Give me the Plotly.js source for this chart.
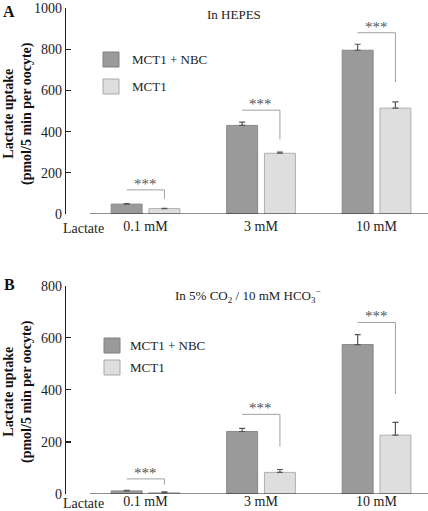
<!DOCTYPE html>
<html>
<head>
<meta charset="utf-8">
<script src="https://cdn.plot.ly/plotly-3.0.1.min.js"></script>
<style>html,body{margin:0;padding:0;background:#fff;}#chart{width:428px;height:511px;}</style>
</head>
<body>
<div id="chart"></div>
<script>
// ---- data ----
const categories = ["0.1 mM", "3 mM", "10 mM"];
const seriesNames = ["MCT1 + NBC", "MCT1"];
// Panel A: In HEPES
const hepesMCT1NBC = [48, 430, 795];
const hepesMCT1NBCErr = [3, 16, 29];
const hepesMCT1 = [26, 295, 514];
const hepesMCT1Err = [2, 6, 30];
// Panel B: In 5% CO2 / 10 mM HCO3-
const co2MCT1NBC = [12, 240, 574];
const co2MCT1NBCErr = [2, 12, 38];
const co2MCT1 = [5, 83, 226];
const co2MCT1Err = [3, 11, 49];
// significance labels and bracket levels
const sigLabels = ["***", "***", "***"];
const bracketTopA = [117, 504, 880];
const bracketBottomA = [73, 362, 640];
const bracketTopB = [58, 306, 659];
const bracketBottomB = [35, 182, 384];
const yTicksA = [0, 200, 400, 600, 800, 1000];
const yTicksB = [0, 200, 400, 600, 800];

// ---- layout helpers ----
const W = 428, H = 511;
const px = x => x / W;
const py = y => 1 - y / H;
const FONT = "'Liberation Serif', 'Times New Roman', serif";
const DARK = "#9a9a9a", LIGHT = "#dedede";
const idx = categories.map((c, i) => i);
const OFF_D = -0.297, OFF_L = 0.03, BW = 0.268;
const cD = OFF_D + BW / 2, cL = OFF_L + BW / 2;

function barTrace(vals, errs, xa, ya, color, lineColor, off, name) {
  return {
    type: "bar", x: idx, y: vals, xaxis: xa, yaxis: ya, name: name,
    offset: off, width: BW,
    marker: {color: color, line: {color: lineColor, width: 1}},
    error_y: {type: "data", symmetric: false, array: errs, arrayminus: errs.map(() => 0),
              color: "#555", thickness: 1.2, width: 3},
    showlegend: false, hoverinfo: "x+y"
  };
}

const traces = [
  barTrace(hepesMCT1NBC, hepesMCT1NBCErr, "x", "y", DARK, "#8a8a8a", OFF_D, seriesNames[0]),
  barTrace(hepesMCT1, hepesMCT1Err, "x", "y", LIGHT, "#b0b0b0", OFF_L, seriesNames[1]),
  barTrace(co2MCT1NBC, co2MCT1NBCErr, "x2", "y2", DARK, "#8a8a8a", OFF_D, seriesNames[0]),
  barTrace(co2MCT1, co2MCT1Err, "x2", "y2", LIGHT, "#b0b0b0", OFF_L, seriesNames[1])
];

const shapes = [];
const annotations = [];

function addBrackets(tops, bottoms, xr, yr) {
  idx.forEach(i => {
    shapes.push({type: "line", xref: xr, yref: yr, x0: i + cD, x1: i + cL, y0: tops[i], y1: tops[i],
                 line: {color: "#a0a0a0", width: 1}});
    shapes.push({type: "line", xref: xr, yref: yr, x0: i + cL, x1: i + cL, y0: tops[i], y1: bottoms[i],
                 line: {color: "#a0a0a0", width: 1}});
    annotations.push({xref: xr, yref: yr, x: i, y: tops[i], text: sigLabels[i], showarrow: false,
                      xanchor: "center", yanchor: "bottom", yshift: -4, font: {family: FONT, size: 15, color: "#555"}});
  });
}
addBrackets(bracketTopA, bracketBottomA, "x", "y");
addBrackets(bracketTopB, bracketBottomB, "x2", "y2");

// baselines (detached x axis lines)
shapes.push({type: "line", xref: "paper", yref: "y", x0: px(90), x1: 1, y0: 0, y1: 0, line: {color: "#222", width: 1.2}});
shapes.push({type: "line", xref: "paper", yref: "y2", x0: px(90), x1: 1, y0: 0, y1: 0, line: {color: "#222", width: 1.2}});

// manual legends
function addLegend(x0, yDark, yLight, textX) {
  shapes.push({type: "rect", xref: "paper", yref: "paper", x0: px(x0), x1: px(x0 + 16), y0: py(yDark + 15), y1: py(yDark),
               fillcolor: DARK, line: {color: "#808080", width: 1}});
  shapes.push({type: "rect", xref: "paper", yref: "paper", x0: px(x0), x1: px(x0 + 16), y0: py(yLight + 15), y1: py(yLight),
               fillcolor: LIGHT, line: {color: "#a8a8a8", width: 1}});
  annotations.push({xref: "paper", yref: "paper", x: px(textX), y: py(yDark + 7.5), xanchor: "left", yanchor: "middle",
                    text: seriesNames[0], showarrow: false, font: {family: FONT, size: 13, color: "#222"}});
  annotations.push({xref: "paper", yref: "paper", x: px(textX), y: py(yLight + 7.5), xanchor: "left", yanchor: "middle",
                    text: seriesNames[1], showarrow: false, font: {family: FONT, size: 13, color: "#222"}});
}
addLegend(103, 52, 79, 130);
addLegend(104, 338, 360, 128);

function textAnn(x, y, text, opts) {
  annotations.push(Object.assign({xref: "paper", yref: "paper", x: px(x), y: py(y), text: text, showarrow: false,
                                  xanchor: "center", yanchor: "middle",
                                  font: {family: FONT, size: 13, color: "#222"}}, opts || {}));
}
textAnn(9, 11, "<b>A</b>", {font: {family: FONT, size: 16, color: "#111"}});
textAnn(9, 284, "<b>B</b>", {font: {family: FONT, size: 16, color: "#111"}});
textAnn(234, 14, "In HEPES");
textAnn(173, 296, "In 5% CO<sub>2</sub> / 10 mM HCO<sub>3</sub><sup>−</sup>", {xanchor: "left"});
textAnn(83, 228, "Lactate", {font: {family: FONT, size: 14, color: "#222"}});
textAnn(83, 503, "Lactate", {font: {family: FONT, size: 14, color: "#222"}});
textAnn(18, 114, "<b>Lactate uptake<br>(pmol/5 min per oocyte)</b>", {textangle: -90, font: {family: FONT, size: 14, color: "#111"}});
textAnn(18, 392, "<b>Lactate uptake<br>(pmol/5 min per oocyte)</b>", {textangle: -90, font: {family: FONT, size: 14, color: "#111"}});

const xRange = [-0.688, 2.446];
function xAxis(anchor, standoff) {
  return {domain: [px(66), 1], range: xRange, anchor: anchor, showline: false, showgrid: false, zeroline: false,
          tickmode: "array", tickvals: idx, ticktext: categories, ticks: "", ticklabelstandoff: standoff,
          tickfont: {family: FONT, size: 14, color: "#222"}, automargin: false, fixedrange: true};
}
function yAxis(anchor, dom, range, tv) {
  return {domain: dom, range: range, anchor: anchor, showline: true, linecolor: "#222", linewidth: 1.2,
          showgrid: false, zeroline: false, tickmode: "array", tickvals: tv, ticks: "inside", ticklen: 5,
          tickcolor: "#222", tickwidth: 1.2, tickfont: {family: FONT, size: 14, color: "#222"},
          automargin: false, fixedrange: true};
}

const layout = {
  width: W, height: H, margin: {l: 0, r: 0, t: 0, b: 0},
  paper_bgcolor: "#fff", plot_bgcolor: "rgba(0,0,0,0)",
  barmode: "overlay", showlegend: false,
  xaxis: xAxis("y", 2),
  yaxis: yAxis("x", [py(214), py(8)], [0, 1000], yTicksA),
  xaxis2: xAxis("y2", -3),
  yaxis2: yAxis("x2", [py(494), py(285.7)], [0, 800], yTicksB),
  shapes: shapes, annotations: annotations,
  font: {family: FONT}
};

Plotly.newPlot("chart", traces, layout, {staticPlot: true, displayModeBar: false});
</script>
</body>
</html>
